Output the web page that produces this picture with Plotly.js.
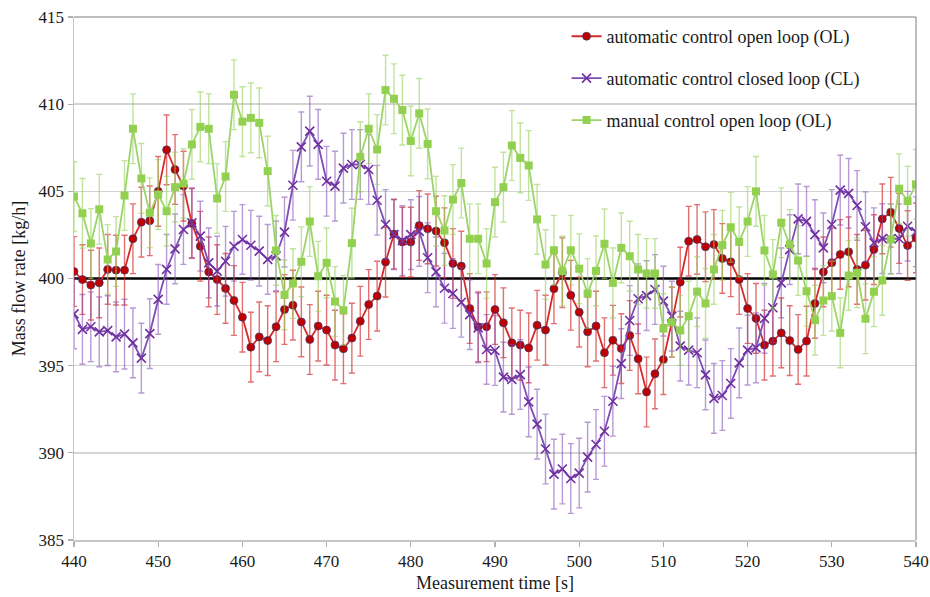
<!DOCTYPE html>
<html>
<head>
<meta charset="utf-8">
<script src="https://cdn.plot.ly/plotly-3.0.1.min.js"></script>
<style>html,body{margin:0;padding:0;background:#fff;}#chart{width:930px;height:597px;}</style>
</head>
<body>
<div id="chart"></div>
<script>
// Measurement time [s]
const time = [440,441,442,443,444,445,446,447,448,449,450,451,452,453,454,455,456,457,458,459,
  460,461,462,463,464,465,466,467,468,469,470,471,472,473,474,475,476,477,478,479,
  480,481,482,483,484,485,486,487,488,489,490,491,492,493,494,495,496,497,498,499,
  500,501,502,503,504,505,506,507,508,509,510,511,512,513,514,515,516,517,518,519,
  520,521,522,523,524,525,526,527,528,529,530,531,532,533,534,535,536,537,538,539,540];

// automatic control open loop (OL)
const autoOpenLoop = [400.4,399.94,399.62,399.75,400.52,400.48,400.48,402.28,403.23,403.31,
  405.0,407.38,406.25,405.3,403.16,401.85,400.38,399.94,399.43,398.74,
  397.78,396.06,396.65,396.44,397.23,398.22,398.47,397.51,396.5,397.27,
  397.04,396.18,395.97,396.58,397.55,398.51,398.99,400.94,402.55,402.09,
  402.09,403.04,402.85,402.72,402.05,400.86,400.71,398.28,397.23,397.23,
  398.22,397.46,396.31,396.18,396.02,397.32,397.04,399.41,400.33,399.04,
  398.07,396.94,397.27,395.74,396.46,395.98,396.73,395.39,393.49,394.53,
  395.35,397.5,399.79,402.14,402.24,401.82,401.95,401.15,400.96,399.94,
  398.28,397.71,396.18,396.41,396.88,396.44,395.93,396.41,398.57,400.38,
  400.9,401.38,401.53,400.52,400.77,401.66,403.42,403.8,402.87,401.89,402.33];

// automatic control closed loop (CL)
const autoClosedLoop = [397.97,397.08,397.23,396.94,397.01,396.65,396.81,396.31,395.43,396.84,
  398.8,400.52,401.7,402.81,403.19,402.43,400.9,400.42,400.99,401.85,
  402.24,401.91,401.57,401.1,401.3,402.66,405.35,407.55,408.45,407.69,
  405.58,405.3,406.33,406.54,406.54,406.25,404.49,403.1,402.52,402.18,
  402.52,402.7,401.19,400.38,399.44,399.14,398.64,397.93,397.17,395.93,
  395.87,394.34,394.21,394.49,392.92,391.65,390.22,388.78,389.07,388.53,
  388.84,389.75,390.48,391.24,392.96,395.12,397.59,398.84,399.02,399.37,
  398.7,397.84,396.12,395.89,395.74,394.47,393.12,393.29,393.98,395.16,
  395.89,396.02,397.71,398.32,399.75,401.66,403.42,403.28,402.52,401.76,
  403.1,405.07,404.88,404.19,402.97,402.05,402.29,402.28,402.28,403.0,402.68];

// manual control open loop (OL)
const manualOpenLoop = [404.7,403.74,402.01,403.97,401.09,401.55,404.76,408.59,405.74,403.77,
  404.82,403.86,405.24,405.45,407.69,408.7,408.59,404.59,405.85,410.54,
  409.0,409.21,408.93,406.16,401.61,399.06,399.71,400.96,403.27,400.13,
  400.9,398.68,398.18,402.03,406.98,408.59,407.4,410.81,410.31,409.66,
  407.89,409.47,407.72,403.86,402.75,404.53,405.48,402.28,402.28,400.86,
  404.38,405.24,407.63,406.92,406.48,403.39,400.8,401.62,400.42,401.62,
  400.56,399.14,400.44,401.99,399.75,401.76,401.28,400.52,400.29,400.29,
  397.13,397.49,397.02,397.84,399.25,398.57,400.52,401.91,402.94,402.1,
  403.27,405.0,401.61,400.23,403.2,401.95,401.03,399.27,397.61,398.74,
  398.99,396.88,400.17,400.33,397.69,399.24,399.89,402.24,405.15,404.44,405.4];

// error bar half-widths [kg/h]
const errAutoOpen = 2.0;
const errAutoClosed = 2.0;
const errManualOpen = 2.0;

// set point
const referenceLevel = 400;
const referenceX = [440, 540];

const seriesNames = ['automatic control open loop (OL)', 'automatic control closed loop (CL)', 'manual control open loop (OL)'];
const yTicks = [385,390,395,400,405,410,415];
const xTicks = [440,450,460,470,480,490,500,510,520,530,540];

const FONT = 'Liberation Serif';

const traces = [
  {
    x: referenceX, y: referenceX.map(() => referenceLevel), mode: 'lines',
    line: {color: '#000000', width: 2.6}, showlegend: false, hoverinfo: 'skip', legendgroup: 'ref'
  },
  {
    x: time, y: autoOpenLoop, name: seriesNames[0], mode: 'lines+markers', legendgroup: 'a',
    line: {color: '#D42A2A', width: 1.8},
    marker: {symbol: 'circle', size: 8, color: '#C00000', line: {color: 'rgba(50,60,110,0.7)', width: 1}},
    error_y: {type: 'constant', value: errAutoOpen, color: 'rgba(210,35,35,0.65)', thickness: 1.4, width: 3}
  },
  {
    x: time, y: autoClosedLoop, name: seriesNames[1], mode: 'lines+markers', legendgroup: 'b',
    line: {color: '#7E4DB5', width: 1.8},
    marker: {symbol: 'x-thin', size: 9, color: '#7030A0', line: {color: '#7030A0', width: 1.6}},
    error_y: {type: 'constant', value: errAutoClosed, color: 'rgba(125,70,180,0.55)', thickness: 1.4, width: 3}
  },
  {
    x: time, y: manualOpenLoop, name: seriesNames[2], mode: 'lines+markers', legendgroup: 'c',
    line: {color: '#9CD46A', width: 1.8},
    marker: {symbol: 'square', size: 8, color: '#92D050'},
    error_y: {type: 'constant', value: errManualOpen, color: 'rgba(150,210,90,0.6)', thickness: 1.4, width: 3}
  }
];

const layout = {
  width: 930, height: 597,
  margin: {l: 74, r: 14, t: 17, b: 57},
  paper_bgcolor: '#ffffff', plot_bgcolor: '#ffffff',
  font: {family: FONT, size: 17, color: '#1a1a1a'},
  showlegend: true,
  legend: {
    x: 0.585, y: 0.998, xanchor: 'left', yanchor: 'top',
    bgcolor: 'rgba(0,0,0,0)', borderwidth: 0,
    font: {family: FONT, size: 18, color: '#1a1a1a'},
    traceorder: 'grouped', tracegroupgap: 15.5, itemwidth: 30
  },
  xaxis: {
    range: [440, 540], tickvals: xTicks, ticktext: xTicks.map(String),
    showgrid: false, zeroline: false,
    showline: true, linecolor: '#c6c6c6', linewidth: 1.5,
    ticks: 'outside', ticklen: 5, tickcolor: '#b0b0b0', tickwidth: 1.2,
    tickfont: {family: FONT, size: 17, color: '#1a1a1a'},
    title: {text: 'Measurement time [s]', font: {family: FONT, size: 18, color: '#1a1a1a'}, standoff: 6}
  },
  yaxis: {
    range: [385, 415], tickvals: yTicks, ticktext: yTicks.map(String),
    showgrid: true, gridcolor: '#d4d4d4', gridwidth: 1.5, zeroline: false,
    showline: true, linecolor: '#c6c6c6', linewidth: 1.5,
    ticks: 'outside', ticklen: 5, tickcolor: '#b0b0b0', tickwidth: 1.2,
    tickfont: {family: FONT, size: 17, color: '#1a1a1a'},
    title: {text: 'Mass flow rate [kg/h]', font: {family: FONT, size: 18, color: '#1a1a1a'}, standoff: 8}
  },
  shapes: [
    {type: 'rect', xref: 'paper', yref: 'paper', x0: 0.556, x1: 0.983, y0: 0.77, y1: 0.99,
     fillcolor: '#ffffff', line: {width: 0}, layer: 'between'},
    {type: 'line', xref: 'paper', yref: 'paper', x0: 0, x1: 1, y0: 1, y1: 1, line: {color: '#7a7a7a', width: 1}},
    {type: 'line', xref: 'paper', yref: 'paper', x0: 1, x1: 1, y0: 0, y1: 1, line: {color: '#7a7a7a', width: 1}}
  ]
};

Plotly.newPlot('chart', traces, layout, {displayModeBar: false, staticPlot: true});
</script>
</body>
</html>
